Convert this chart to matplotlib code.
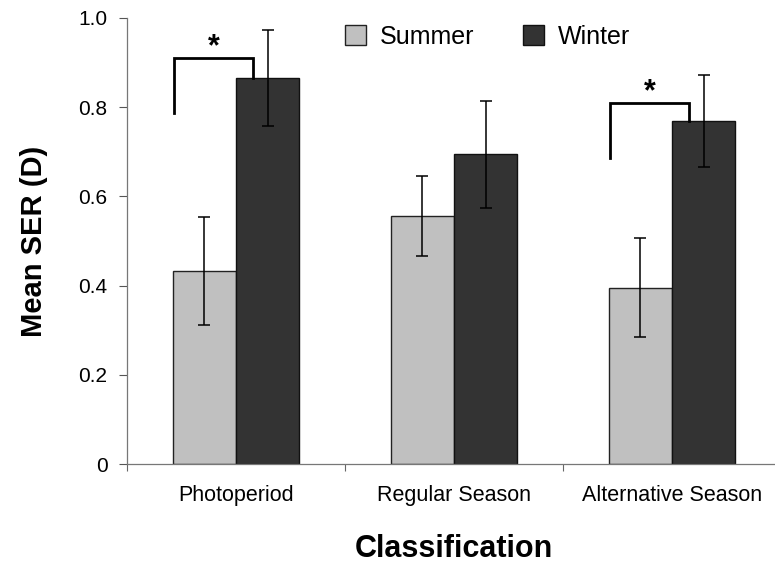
import numpy as np
import matplotlib.pyplot as plt

plt.rcParams['font.family'] = ['Liberation Sans', 'DejaVu Sans']

# data
categories = ['Photoperiod', 'Regular Season', 'Alternative Season']
summer = [0.433, 0.556, 0.395]
summer_err = [0.121, 0.090, 0.111]
winter = [0.865, 0.694, 0.769]
winter_err = [0.108, 0.120, 0.104]

# significance brackets (category index, left leg bottom, bracket top)
sig_cats = [0, 2]
sig_low = [0.787, 0.687]
sig_top = [0.910, 0.810]

fig = plt.figure(figsize=(7.75, 5.66), dpi=100)
ax = fig.add_axes([0.1639, 0.1802, 0.8439, 0.788])

x = np.arange(len(categories))
w = 0.29
err_kw = dict(ecolor='black', elinewidth=1.1, capsize=4.5, capthick=1.1)
ax.bar(x - w / 2, summer, w, yerr=summer_err, color='#C0C0C0',
       edgecolor='#222222', linewidth=1.0, label='Summer', error_kw=err_kw)
ax.bar(x + w / 2, winter, w, yerr=winter_err, color='#333333',
       edgecolor='#111111', linewidth=1.0, label='Winter', error_kw=err_kw)

for i, lo, top in zip(sig_cats, sig_low, sig_top):
    xl = i - w + 0.005
    xr = i + 0.08
    ax.plot([xl, xl, xr, xr], [lo, top, top, winter[i]], color='black',
            linewidth=2.0, solid_joinstyle='miter')
    ax.text((xl + xr) / 2, top - 0.01, '*', ha='center', va='bottom',
            fontsize=22, fontweight='bold')

ax.set_xlim(-0.5, 2.5)
ax.set_ylim(0, 1.0)
ax.set_yticks(np.arange(0, 1.01, 0.2))
ax.set_yticklabels(['0', '0.2', '0.4', '0.6', '0.8', '1.0'])
ax.tick_params(axis='y', labelsize=15, length=6, color='#555555', width=0.8, pad=8)

ax.set_xticks(x)
ax.set_xticklabels(categories)
ax.set_xticks([-0.5, 0.5, 1.5, 2.5], minor=True)
ax.tick_params(axis='x', which='major', length=0, labelsize=15.5, pad=15)
ax.tick_params(axis='x', which='minor', length=5, color='#666666', width=0.8)

for s in ['top', 'right']:
    ax.spines[s].set_visible(False)
for s in ['left', 'bottom']:
    ax.spines[s].set_color('#777777')
    ax.spines[s].set_linewidth(0.9)

ax.set_ylabel('Mean SER (D)', fontsize=21, fontweight='bold', labelpad=22)
ax.set_xlabel('Classification', fontsize=22, fontweight='bold', labelpad=20)

ax.legend(loc='upper left', bbox_to_anchor=(0.299, 1.035), ncol=2, frameon=False,
          fontsize=18, handlelength=0.85, handleheight=0.85, columnspacing=1.94,
          handletextpad=0.55)

fig.savefig('out.png', dpi=100)
